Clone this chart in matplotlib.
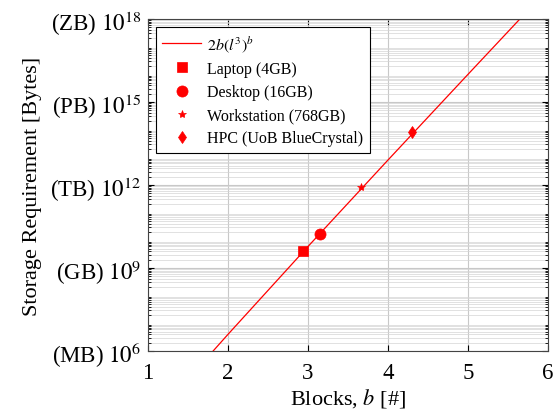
import matplotlib.pyplot as plt
from matplotlib.ticker import LogLocator, NullFormatter

plt.rcParams['font.family'] = ['Liberation Serif', 'DejaVu Serif']
plt.rcParams['mathtext.fontset'] = 'stix'

# storage model curve 2b(l^3)^b
line_blocks = [1.75, 2, 3, 4, 5, 5.7]
line_bytes = [6.2e5, 4e6, 6e9, 8e12, 1e16, 1.44e18]

# machines
machines = ['Laptop (4GB)', 'Desktop (16GB)', 'Workstation (768GB)', 'HPC (UoB BlueCrystal)']
machine_blocks = [2.94, 3.15, 3.66, 4.30]
machine_bytes = [4.1e9, 1.7e10, 8.2e11, 8.2e13]
markers = ['s', 'o', '*', 'd']
sizes = [7.5, 8, 6, 6.5]

ytick_vals = [1e6, 1e9, 1e12, 1e15, 1e18]
ytick_labels = ['(MB) $10^{6}$', '(GB) $10^{9}$', '(TB) $10^{12}$',
                '(PB) $10^{15}$', '(ZB) $10^{18}$']

fig = plt.figure(figsize=(5.56, 4.14), dpi=100)
ax = fig.add_axes([148 / 556, 62 / 414, 400 / 556, 332 / 414])

ax.plot(line_blocks, line_bytes, color='red', lw=0.9, label='$2b(l^3)^b$')
for name, b, s, m, ms in zip(machines, machine_blocks, machine_bytes, markers, sizes):
    ax.plot([b], [s], ls='none', marker=m, color='red', ms=ms, mew=0.5, label=name)

ax.set_yscale('log')
ax.set_xlim(1, 6)
ax.set_ylim(1e6, 1e18)
ax.set_yticks(ytick_vals)
ax.set_yticklabels(ytick_labels)
ax.yaxis.set_minor_locator(LogLocator(base=10, subs=range(2, 10), numticks=100))
ax.yaxis.set_minor_formatter(NullFormatter())
ax.set_xticks([1, 2, 3, 4, 5, 6])

ax.grid(True, which='major', color='#c8c8c8', lw=0.8)
ax.grid(True, which='minor', axis='y', color='#d4d4d4', lw=0.5)
ax.set_axisbelow(True)
ax.tick_params(which='both', direction='in', top=True, right=True)
ax.tick_params(which='major', length=4)
ax.tick_params(which='minor', length=2)
ax.tick_params(axis='x', labelsize=16.5, pad=8)
ax.tick_params(axis='y', labelsize=16.5, pad=5)
for sp in ax.spines.values():
    sp.set_color('#444444')

ax.set_xlabel('Blocks, $b$ [#]', fontsize=16, labelpad=2)
ax.set_ylabel('Storage Requirement [Bytes]', fontsize=16, labelpad=6)

leg = ax.legend(loc='upper left', fontsize=11.5, fancybox=False, edgecolor='black',
                framealpha=1, borderaxespad=0.5, handlelength=2.4, handletextpad=0.4,
                labelspacing=0.45)
leg.get_frame().set_linewidth(0.8)

fig.savefig('out.png', dpi=100)
